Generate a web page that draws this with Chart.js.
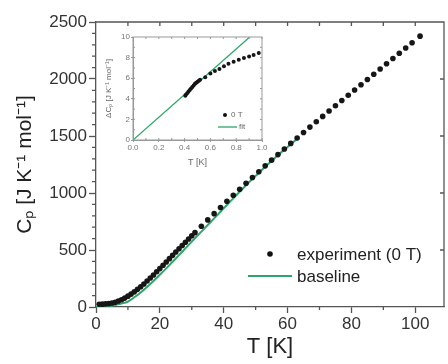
<!DOCTYPE html>
<html>
<head>
<meta charset="utf-8">
<script src="https://cdn.jsdelivr.net/npm/chart.js@4"></script>
<style>
  html, body { margin: 0; padding: 0; background: #fff; }
  #wrap { position: relative; width: 448px; height: 364px; }
  #inset { position: absolute; left: 100px; top: 28px; width: 170px; height: 140px; }
</style>
</head>
<body>
<div id="wrap">
  <canvas id="main" width="448" height="364"></canvas>
  <div id="inset"><canvas id="insetChart"></canvas></div>
</div>
<script>
// main panel: experiment (0 T), 1 K steps up to 30 K, then 2 K steps
const expT = [1, 2, 3, 4, 5, 6, 7, 8, 9, 10, 11, 12, 13, 14, 15, 16, 17, 18, 19, 20,
  21, 22, 23, 24, 25, 26, 27, 28, 29, 30, 31, 33, 35, 37, 39, 41, 43, 45, 47, 49,
  51, 53, 55, 57, 59, 61, 63, 65, 67, 69, 71, 73, 75, 77, 79, 81, 83, 85, 87, 89,
  91, 93, 95, 97, 99, 101.5];
const expCp = [24, 25, 27, 30, 35, 42, 52, 64, 78, 95, 113, 133, 155, 178, 202, 228, 254, 281, 309, 337,
  366, 395, 424, 453, 482, 511, 540, 568, 596, 624, 652, 708, 764, 819, 873, 927, 980, 1033, 1085, 1136,
  1187, 1238, 1288, 1337, 1386, 1435, 1483, 1531, 1578, 1625, 1672, 1719, 1766, 1812, 1858, 1904, 1950, 1996, 2042, 2088,
  2134, 2180, 2226, 2272, 2318, 2376];

// baseline
const baseT = [0, 2, 4, 6, 8, 10, 12, 14, 16, 18, 20, 22, 24, 26, 28, 30, 32, 34, 36, 38,
  40, 42, 44, 46, 48, 50, 52, 54, 56, 58, 60, 62, 63.5];
const baseCp = [0, 2, 8, 18, 30, 48, 85, 128, 176, 228, 283, 339, 397, 455, 514, 574, 632, 690, 748, 806,
  866, 924, 982, 1039, 1096, 1150, 1204, 1256, 1307, 1357, 1404, 1452, 1488];

// inset: low temperature part
const insetT = [0.405, 0.41, 0.42, 0.43, 0.44, 0.45, 0.46, 0.47, 0.48, 0.49, 0.50, 0.51, 0.52,
  0.56, 0.60, 0.635, 0.67, 0.705, 0.74, 0.78, 0.82, 0.86, 0.90, 0.935, 0.975];
const insetDC = [4.3, 4.4, 4.55, 4.7, 4.85, 5.0, 5.15, 5.3, 5.45, 5.55, 5.65, 5.75, 5.85,
  6.1, 6.45, 6.7, 6.9, 7.15, 7.4, 7.6, 7.8, 7.97, 8.1, 8.26, 8.45];
const fitT = [0, 0.905];
const fitDC = [0, 10];

const xTicks = [0, 20, 40, 60, 80, 100];
const yTicks = [0, 500, 1000, 1500, 2000, 2500];

const FONT = "'Liberation Sans', Arial, sans-serif";
const GREEN = '#2ca66a';
const AXIS = '#555';

const pts = (xs, ys) => xs.map((x, i) => ({ x, y: ys[i] }));

// frame, minor ticks and legend for the main panel
const mainExtras = {
  id: 'mainExtras',
  afterDraw(chart) {
    const { ctx, chartArea: a, scales: { x, y } } = chart;
    ctx.save();
    ctx.strokeStyle = AXIS;
    ctx.lineWidth = 1.3;
    ctx.beginPath();
    ctx.moveTo(a.left, a.top); ctx.lineTo(a.right, a.top); ctx.lineTo(a.right, a.bottom);
    // minor y ticks (outward)
    for (let v = 100; v < 2500; v += 100) {
      if (v % 500 === 0) continue;
      const py = y.getPixelForValue(v);
      ctx.moveTo(a.left - 4, py); ctx.lineTo(a.left, py);
    }
    // minor x ticks (outward)
    for (let v = 10; v <= 100; v += 20) {
      const px = x.getPixelForValue(v);
      ctx.moveTo(px, a.bottom); ctx.lineTo(px, a.bottom + 3);
    }
    // top ticks (inward)
    for (let v = 10; v <= 100; v += 10) {
      const px = x.getPixelForValue(v);
      ctx.moveTo(px, a.top); ctx.lineTo(px, a.top + 4);
    }
    // right ticks (inward)
    for (let v = 500; v < 2500; v += 500) {
      const py = y.getPixelForValue(v);
      ctx.moveTo(a.right, py); ctx.lineTo(a.right - 4, py);
    }
    ctx.stroke();

    // legend
    ctx.fillStyle = '#111';
    ctx.beginPath();
    ctx.arc(270, 254, 2.8, 0, Math.PI * 2);
    ctx.fill();
    ctx.strokeStyle = GREEN;
    ctx.lineWidth = 2;
    ctx.beginPath();
    ctx.moveTo(248, 276); ctx.lineTo(292, 276);
    ctx.stroke();
    ctx.fillStyle = '#222';
    ctx.font = '17px ' + FONT;
    ctx.textBaseline = 'middle';
    ctx.fillText('experiment (0 T)', 297, 255);
    ctx.fillText('baseline', 297, 277);
    ctx.restore();
  }
};

new Chart(document.getElementById('main'), {
  type: 'scatter',
  data: {
    datasets: [
      {
        label: 'baseline',
        type: 'line',
        data: pts(baseT, baseCp),
        borderColor: GREEN,
        borderWidth: 2,
        pointRadius: 0,
        tension: 0.3,
        fill: false,
        order: 2
      },
      {
        label: 'experiment (0 T)',
        data: pts(expT, expCp),
        backgroundColor: '#161616',
        borderWidth: 0,
        pointRadius: 2.8,
        order: 1
      }
    ]
  },
  options: {
    responsive: false,
    animation: false,
    layout: { padding: { top: 22, right: 1, left: 0, bottom: 0 } },
    plugins: { legend: { display: false }, tooltip: { enabled: false } },
    scales: {
      x: {
        type: 'linear', min: 0, max: 109,
        afterFit: (s) => { s.height = 57; },
        afterBuildTicks: (s) => { s.ticks = xTicks.map(v => ({ value: v })); },
        ticks: { font: { size: 17, family: FONT }, color: '#333', padding: 1, maxRotation: 0,
          callback: (v) => String(v) },
        grid: { drawOnChartArea: false, tickLength: 6, color: AXIS, tickWidth: 1.3 },
        border: { color: AXIS, width: 1.3 },
        title: { display: true, text: 'T [K]', color: '#222', font: { size: 22, family: FONT }, padding: { top: 0, bottom: 4 } }
      },
      y: {
        type: 'linear', min: 0, max: 2500,
        afterFit: (s) => { s.width = 96; },
        afterBuildTicks: (s) => { s.ticks = yTicks.map(v => ({ value: v })); },
        ticks: { font: { size: 17, family: FONT }, color: '#333', padding: 2,
          callback: (v) => String(v) },
        grid: { drawOnChartArea: false, tickLength: 7, color: AXIS, tickWidth: 1.3 },
        border: { color: AXIS, width: 1.3 },
        title: { display: true, text: 'Cₚ [J K⁻¹ mol⁻¹]', color: '#222', font: { size: 21, family: FONT }, padding: { top: 13, bottom: 0 } }
      }
    }
  },
  plugins: [mainExtras]
});

// inset frame and legend
const insetExtras = {
  id: 'insetExtras',
  afterDraw(chart) {
    const { ctx, chartArea: a, scales: { x, y } } = chart;
    ctx.save();
    ctx.strokeStyle = '#999';
    ctx.lineWidth = 1;
    ctx.strokeRect(a.left, a.top, a.right - a.left, a.bottom - a.top);
    ctx.beginPath();
    for (let v = 0.1; v < 1; v += 0.1) {
      const px = x.getPixelForValue(v);
      ctx.moveTo(px, a.top); ctx.lineTo(px, a.top + 2);
      ctx.moveTo(px, a.bottom); ctx.lineTo(px, a.bottom - 2);
    }
    for (let v = 1; v < 10; v += 1) {
      const py = y.getPixelForValue(v);
      ctx.moveTo(a.left, py); ctx.lineTo(a.left + 2, py);
      ctx.moveTo(a.right, py); ctx.lineTo(a.right - 2, py);
    }
    ctx.stroke();

    ctx.fillStyle = '#111';
    ctx.beginPath();
    ctx.arc(125, 87, 2, 0, Math.PI * 2);
    ctx.fill();
    ctx.strokeStyle = GREEN;
    ctx.lineWidth = 1.3;
    ctx.beginPath();
    ctx.moveTo(118, 99); ctx.lineTo(137, 99);
    ctx.stroke();
    ctx.fillStyle = '#666';
    ctx.font = '8px ' + FONT;
    ctx.textBaseline = 'middle';
    ctx.fillText('0 T', 131, 87);
    ctx.fillText('fit', 139, 99);
    ctx.restore();
  }
};

new Chart(document.getElementById('insetChart'), {
  type: 'scatter',
  data: {
    datasets: [
      {
        label: 'fit',
        type: 'line',
        data: pts(fitT, fitDC),
        borderColor: GREEN,
        borderWidth: 1.3,
        pointRadius: 0,
        fill: false,
        order: 2
      },
      {
        label: '0 T',
        data: pts(insetT, insetDC),
        backgroundColor: '#151515',
        borderWidth: 0,
        pointRadius: 2,
        order: 1
      }
    ]
  },
  options: {
    responsive: true,
    maintainAspectRatio: false,
    animation: false,
    layout: { padding: { top: 9, right: 8, left: 0, bottom: 0 } },
    plugins: { legend: { display: false }, tooltip: { enabled: false } },
    scales: {
      x: {
        type: 'linear', min: 0, max: 1,
        afterFit: (s) => { s.height = 28; },
        ticks: { stepSize: 0.2, font: { size: 8, family: FONT }, color: '#777', padding: 1,
          callback: (v) => v.toFixed(1) },
        grid: { drawOnChartArea: false, tickLength: 2, color: '#999' },
        border: { color: '#999' },
        title: { display: true, text: 'T [K]', color: '#666', font: { size: 9, family: FONT }, padding: { top: 0, bottom: 0 } }
      },
      y: {
        type: 'linear', min: 0, max: 10,
        afterFit: (s) => { s.width = 33; },
        ticks: { stepSize: 2, font: { size: 8, family: FONT }, color: '#777', padding: 1 },
        grid: { drawOnChartArea: false, tickLength: 2, color: '#999' },
        border: { color: '#999' },
        title: { display: true, text: 'ΔCₚ [J K⁻¹ mol⁻¹]', color: '#666', font: { size: 8, family: FONT }, padding: { top: 4, bottom: 0 } }
      }
    }
  },
  plugins: [insetExtras]
});
</script>
</body>
</html>
